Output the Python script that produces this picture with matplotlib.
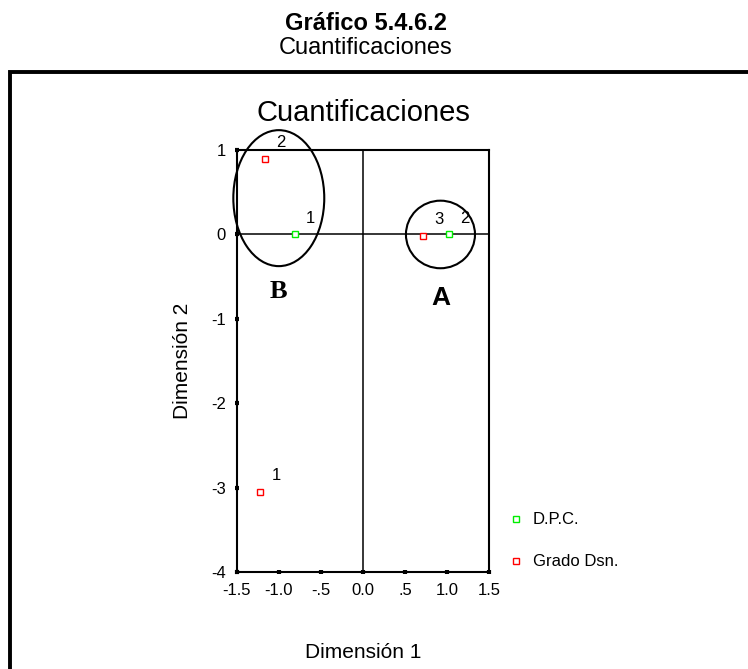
import matplotlib.pyplot as plt
from matplotlib.patches import Ellipse, Rectangle
from matplotlib.lines import Line2D

plt.rcParams['font.family'] = ['Liberation Sans', 'DejaVu Sans']

# category quantifications
dpc_x = [-0.81, 1.02]
dpc_y = [0.0, 0.0]
dpc_lab = ["1", "2"]

grado_x = [-1.22, -1.16, 0.71]
grado_y = [-3.05, 0.89, -0.02]
grado_lab = ["1", "2", "3"]

series_names = ["D.P.C.", "Grado Dsn."]
series_colors = ["#00ee00", "#ff0000"]

x_ticks = [-1.5, -1.0, -0.5, 0.0, 0.5, 1.0, 1.5]
x_tick_labels = ["-1.5", "-1.0", "-.5", "0.0", ".5", "1.0", "1.5"]
y_ticks = [1, 0, -1, -2, -3, -4]
y_tick_labels = ["1", "0", "-1", "-2", "-3", "-4"]

W, H = 748, 669
fig = plt.figure(figsize=(W / 100, H / 100), dpi=100)


def fx(px):
    return px / W


def fy(py):
    return 1 - py / H


# outer frame (top and left edge visible)
fig.add_artist(Rectangle((fx(9.5), -0.1), 1.2, fy(72) + 0.1,
                         transform=fig.transFigure, fill=False,
                         edgecolor="black", linewidth=2.8))

fig.text(fx(366), fy(23), "Gráfico 5.4.6.2", ha="center", va="center",
         fontsize=17, fontweight="bold")
fig.text(fx(366), fy(48), "Cuantificaciones", ha="center", va="center",
         fontsize=17)

ax = fig.add_axes([fx(236.7), fy(572.3), fx(489.3) - fx(236.7),
                   fy(150) - fy(572.3)])
ax.set_xlim(-1.5, 1.5)
ax.set_ylim(-4, 1)

for s in ax.spines.values():
    s.set_linewidth(1.5)

ax.axhline(0, color="black", linewidth=1.1)
ax.axvline(0, color="black", linewidth=1.1)

ax.plot(dpc_x, dpc_y, linestyle="none", marker="s", markersize=4.5,
        markerfacecolor="white", markeredgecolor=series_colors[0],
        markeredgewidth=1.0, zorder=5)
ax.plot(grado_x, grado_y, linestyle="none", marker="s", markersize=4.5,
        markerfacecolor="white", markeredgecolor=series_colors[1],
        markeredgewidth=1.0, zorder=5)

for x, y, t in zip(dpc_x, dpc_y, dpc_lab):
    ax.annotate(t, (x, y), xytext=(11.5, 11.5), textcoords="offset points",
                ha="center", va="center", fontsize=12)
for x, y, t in zip(grado_x, grado_y, grado_lab):
    ax.annotate(t, (x, y), xytext=(11.5, 12), textcoords="offset points",
                ha="center", va="center", fontsize=12)

# group circles
ax.add_patch(Ellipse((-1.0, 0.43), 1.08, 1.61, fill=False,
                     edgecolor="black", linewidth=1.5, clip_on=False))
ax.add_patch(Ellipse((0.92, 0.0), 0.82, 0.80, fill=False,
                     edgecolor="black", linewidth=1.5, clip_on=False))
ax.text(-1.0, -0.67, "B", ha="center", va="center", fontsize=19,
        fontweight="bold", family="Liberation Serif")
ax.text(0.92, -0.75, "A", ha="center", va="center", fontsize=19,
        fontweight="bold")

ax.set_xticks(x_ticks)
ax.set_xticklabels(x_tick_labels)
ax.set_yticks(y_ticks)
ax.set_yticklabels(y_tick_labels)
ax.tick_params(direction="inout", length=3.5, width=3, labelsize=12,
               pad=6)

ax.set_title("Cuantificaciones", fontsize=21, pad=21)
ax.set_xlabel("Dimensión 1", fontsize=15, labelpad=32)
ax.set_ylabel("Dimensión 2", fontsize=15, labelpad=14)

# legend
for i, name in enumerate(series_names):
    yy = fy(519 + 42 * i)
    fig.add_artist(Line2D([fx(515.7)], [yy], transform=fig.transFigure,
                          linestyle="none", marker="s", markersize=4.5,
                          markerfacecolor="white",
                          markeredgecolor=series_colors[i],
                          markeredgewidth=1.0))
    fig.text(fx(533), yy, name, ha="left", va="center", fontsize=12)

fig.savefig("out.png", dpi=100)
